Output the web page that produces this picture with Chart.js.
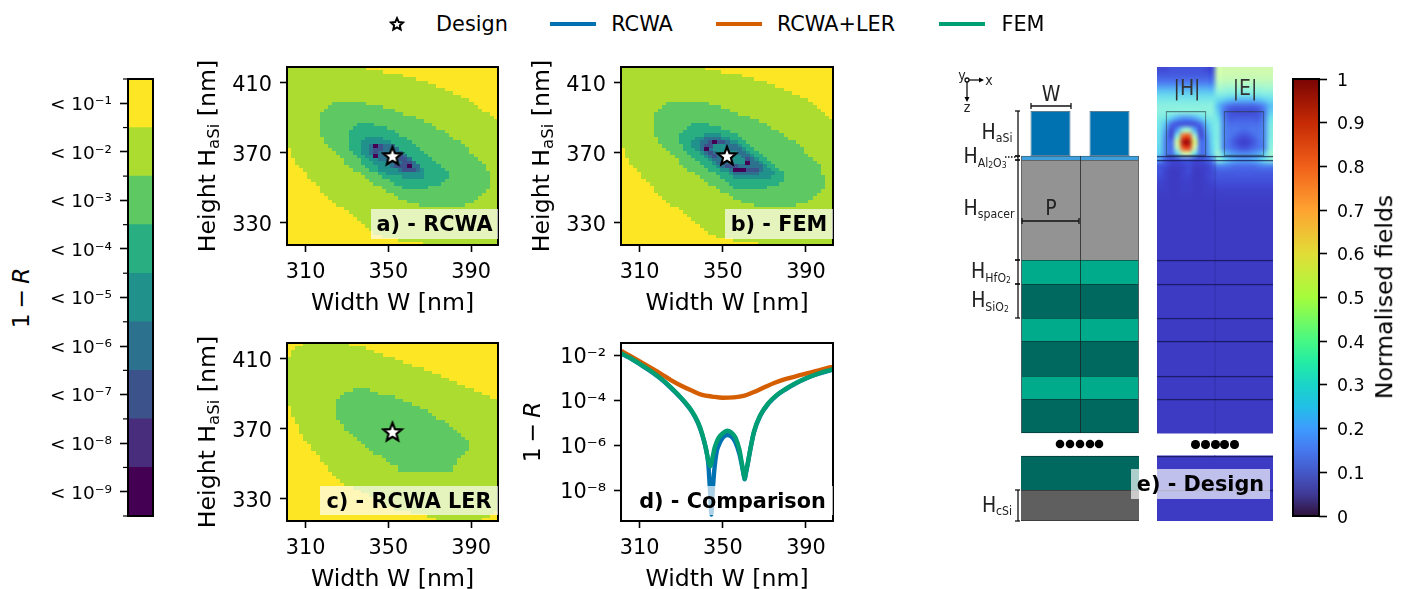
<!DOCTYPE html>
<html>
<head>
<meta charset="utf-8">
<script src="https://cdn.jsdelivr.net/npm/chart.js@4"></script>
<style>
html,body{margin:0;padding:0;background:#fff;overflow:hidden;width:1402px;height:589px;font-family:"DejaVu Sans";color:#000}
canvas{position:absolute}
.t{position:absolute;white-space:nowrap;transform:translate(-50%,-50%);line-height:1}
.r{transform:translate(-50%,-50%) rotate(-90deg);font-size:23.6px}
.s{font-stretch:condensed;font-size:21px;color:#222}
.s sub{font-size:.58em;vertical-align:-.3em;line-height:0}
.s sub sub{font-size:.7em;vertical-align:-.2em}
.r sub{font-size:.7em;vertical-align:-.25em;line-height:0}
.box{position:absolute;background:rgba(255,255,255,.68);font-weight:bold;font-size:20.8px;display:flex;align-items:center;justify-content:center;white-space:nowrap}
i{font-style:italic}
</style>
</head>
<body>
<script>
// scale ticks, all panels
const widthTicks = [310, 350, 390];
const heightTicks = [330, 370, 410];
const designPoint = [{ x: 352, y: 368 }];

// 1-R bands
const levelColors = ['#440154', '#472d7b', '#3b528b', '#2c728e', '#21918c', '#28ae80', '#5ec962', '#addc30', '#fde725'];
const levelLabels = ['< 10⁻⁹', '< 10⁻⁸', '< 10⁻⁷', '< 10⁻⁶', '< 10⁻⁵', '< 10⁻⁴', '< 10⁻³', '< 10⁻²', '< 10⁻¹'];

// heatmap regions: [first row, first col .. last col per row], grid is 51x51 (2 nm), row 0 on top
const aYellowTop = [[19,50],[23,50],[28,50],[31,50],[34,50],[36,50],[38,50],[40,50],[42,50],[44,50],[45,50],[46,50],[47,50],[49,50],[50,50]];
const aYellowLow = [[0,0],[0,0],[0,0],[0,1],[0,1],[0,2],[0,3],[0,4],[0,4],[0,5],[0,6],[0,7],[0,7],[0,8],[0,9],[0,10],[0,11],[0,13],[0,14],[0,15],[0,16],[0,17],[0,18],[0,19],[0,20],[0,22],[0,26],[0,32]];
const aL6 = [[11,18],[10,22],[9,25],[8,27],[8,30],[8,32],[8,34],[8,35],[8,37],[8,38],[9,39],[9,41],[10,42],[11,43],[12,43],[13,44],[14,45],[14,46],[15,47],[16,47],[18,48],[19,48],[20,48],[21,48],[23,48],[24,47],[26,46],[27,45],[29,44],[32,42]];
const aL5 = [[17,20],[16,23],[15,25],[15,26],[15,28],[15,29],[15,30],[15,31],[16,32],[17,33],[18,34],[18,35],[19,36],[20,37],[22,38],[23,38],[25,37],[26,36],[28,33]];
const aL4 = [[19,22],[18,24],[18,25],[18,26],[18,27],[19,28],[20,29],[21,30],[22,31],[22,32],[24,32],[28,32]];
const aL3 = [[20,25],[20,26],[20,27],[21,28],[22,29],[24,30],[25,31],[27,31]];
const aL2 = [[21,22],[21,22],[21,21],[26,27],[27,28],[28,29],[26,28],[28,30]];
const aL0 = [[21,21],[],[],[21,21],[],[],[29,29]];

const bYellowTop = [[20,50],[24,50],[29,50],[32,50],[35,50],[37,50],[39,50],[41,50],[43,50],[45,50],[46,50],[47,50],[48,50],[49,50],[50,50]];
const bYellowLow = [[0,0],[0,0],[0,0],[0,1],[0,1],[0,2],[0,3],[0,4],[0,4],[0,5],[0,6],[0,7],[0,7],[0,8],[0,9],[0,10],[0,11],[0,13],[0,14],[0,15],[0,16],[0,17],[0,18],[0,19],[0,20],[0,22],[0,26],[0,32]];
const bL6 = [[11,20],[10,23],[9,25],[8,27],[8,30],[8,32],[8,34],[8,35],[8,37],[8,38],[9,39],[9,41],[10,42],[11,43],[12,43],[13,44],[14,45],[14,46],[15,47],[16,47],[18,47],[19,48],[20,48],[21,48],[23,48],[24,47],[26,46],[27,45],[29,44],[32,41]];
const bL5 = [[17,20],[16,23],[15,25],[14,27],[14,28],[14,29],[15,30],[15,31],[16,32],[17,33],[18,34],[19,35],[20,36],[21,37],[23,38],[24,38],[25,38],[26,37],[27,34]];
const bL4 = [[20,23],[18,25],[17,27],[17,28],[18,29],[19,30],[20,31],[21,32],[22,33],[23,34],[24,35],[26,36],[27,35]];
const bL3 = [[20,23],[19,25],[19,27],[19,28],[20,29],[21,30],[22,31],[23,32],[24,33],[26,33],[27,32]];
const bInner = [[22,24],[22,25],[23,27],[24,28],[25,29],[27,30]];
const bL2 = [[21,24],[20,21],[20,20],[21,21],[22,22],[30,30],[24,24],[25,27],[30,32]];
const bL0 = [[22,22],[],[20,20],[],[],[],[30,30],[],[27,29]];

const cYellowCorner = [[0,3],[0,1],[0,0],[0,0]];
const cYellowTop = [[15,50],[19,50],[21,50],[23,50],[26,50],[28,50],[30,50],[33,50],[35,50],[37,50],[39,50],[41,50],[43,50],[45,50],[47,50],[49,50]];
const cYellowLow = [[0,0],[0,0],[0,0],[0,1],[0,1],[0,2],[0,2],[0,2],[0,3],[0,3],[0,4],[0,5],[0,5],[0,6],[0,7],[0,7],[0,8],[0,9],[0,9],[0,10],[0,11],[0,12],[0,13],[0,15],[0,17],[0,19],[0,20],[0,21],[0,23],[0,25],[0,29],[0,33],[0,35]];
const cYellowEdge = [[50,50],[49,50],[47,50]];
const cL6 = [[16,19],[14,21],[13,25],[12,27],[12,29],[12,31],[12,33],[12,34],[12,35],[13,37],[14,38],[14,39],[15,40],[16,41],[17,42],[18,43],[19,43],[20,43],[21,42],[23,41],[24,40],[25,40],[27,39],[27,39]];

const panelA = [[8,0,aYellowTop],[8,23,aYellowLow],[6,10,aL6],[5,16,aL5],[4,20,aL4],[3,22,aL3],[2,22,aL2],[0,22,aL0]];
const panelB = [[8,0,bYellowTop],[8,23,bYellowLow],[6,10,bL6],[5,16,bL5],[4,19,bL4],[3,20,bL3],[4,22,bInner],[2,21,bL2],[0,21,bL0]];
const panelC = [[8,0,cYellowCorner],[8,0,cYellowTop],[8,18,cYellowLow],[8,48,cYellowEdge],[6,13,cL6]];

// d) comparison curves
const fineWidths = [301,305,310,315,320,325,330,335,338,340,342,343,344,344.5,345,346,347,348,350,352,354,356,358,359,360,360.5,361,362,363,365,368,372,376,380,385,390,395,400,403];
const rcwaValues = [1.3e-2,8.2e-3,4.2e-3,2.1e-3,9.6e-4,3.7e-4,1.25e-4,3.3e-5,1.0e-5,3.1e-6,6e-7,1.5e-7,5e-9,8e-10,6e-9,1.0e-7,5e-7,1.0e-6,2.2e-6,2.9e-6,2.5e-6,1.4e-6,4e-7,1.5e-7,5e-8,3e-8,5e-8,1.5e-7,5e-7,3.9e-6,2.1e-5,7.4e-5,1.7e-4,3.1e-4,5.8e-4,9.6e-4,1.45e-3,2.0e-3,2.4e-3];
const femValues = [1.3e-2,8.4e-3,4.4e-3,2.2e-3,1.0e-3,3.9e-4,1.3e-4,3.5e-5,1.1e-5,3.4e-6,6.3e-7,2.0e-7,1.15e-7,1.6e-7,2.7e-7,7.6e-7,1.4e-6,2.2e-6,3.5e-6,4.5e-6,3.8e-6,2.3e-6,6.3e-7,1.9e-7,5.8e-8,3.2e-8,5.8e-8,1.6e-7,5.4e-7,4.2e-6,2.2e-5,7.8e-5,1.8e-4,3.2e-4,6.0e-4,1.0e-3,1.5e-3,2.1e-3,2.5e-3];
const lerWidths = [301,305,310,315,320,325,330,335,340,345,350,355,360,365,370,375,380,385,390,395,400,403];
const lerValues = [1.65e-2,1.04e-2,5.6e-3,3.0e-3,1.6e-3,8.2e-4,4.6e-4,2.8e-4,1.8e-4,1.5e-4,1.33e-4,1.38e-4,1.6e-4,2.4e-4,3.9e-4,6.2e-4,9.0e-4,1.2e-3,1.6e-3,2.1e-3,2.8e-3,3.2e-3];
const logTicks = [1e-2, 1e-4, 1e-6, 1e-8];
const logLabels = ['10⁻²', '10⁻⁴', '10⁻⁶', '10⁻⁸'];

// e) stack, depth measured from pillar top
const stackNames = ['Al2O3','spacer','HfO2','SiO2','HfO2','SiO2','HfO2','SiO2','SiO2','cSi'];
const stackTop = [45,49,149,173,207,230,265,288,345,379];
const stackBottom = [49,149,173,207,230,265,288,322,379,410];
const stackColors = ['#3f9fdc','#939393','#00ab8c','#00695f','#00ab8c','#00695f','#00ab8c','#00695f','#00695f','#5f5f5f'];
const stackEdges = ['#3a6a88','#555555','#0a4a42','#063c38','#0a4a42','#063c38','#0a4a42','#063c38','#063c38','#333333'];
const pillarTop = 0;
const pillarBottom = 45;
const brackets = [[0,45],[45,49],[49,149],[149,173],[173,207],[379,410]];
const bodyTop = [100, 345];
const bodyBottom = [322, 410];

// |H| and |E| top part, rows every 6 depth units from -41, 10 columns each
const fieldRows = [
 [.08,.08,.09,.09,.09,.09,.09,.09,.08,.08, .42,.42,.42,.42,.42,.42,.42,.42,.42,.42],
 [.10,.10,.10,.10,.10,.10,.10,.10,.10,.10, .41,.41,.41,.41,.41,.41,.41,.41,.41,.41],
 [.13,.13,.13,.13,.13,.13,.13,.13,.13,.13, .38,.38,.38,.38,.38,.38,.38,.38,.38,.38],
 [.18,.18,.18,.18,.18,.18,.18,.18,.18,.18, .34,.34,.33,.33,.33,.33,.33,.33,.34,.34],
 [.23,.23,.23,.23,.23,.23,.23,.23,.23,.23, .29,.29,.28,.28,.27,.27,.28,.28,.29,.29],
 [.27,.27,.27,.27,.27,.27,.27,.27,.27,.27, .24,.22,.20,.19,.19,.19,.19,.20,.22,.24],
 [.30,.30,.30,.30,.30,.30,.30,.30,.30,.30, .20,.15,.12,.11,.11,.11,.11,.12,.15,.20],
 [.30,.30,.30,.30,.30,.30,.30,.30,.30,.30, .22,.13,.09,.08,.08,.08,.08,.09,.13,.22],
 [.28,.26,.22,.18,.16,.16,.18,.22,.26,.28, .25,.14,.10,.10,.10,.10,.10,.10,.14,.25],
 [.26,.20,.12,.09,.09,.09,.09,.12,.20,.26, .27,.15,.12,.12,.12,.12,.12,.12,.15,.27],
 [.25,.17,.08,.16,.32,.34,.18,.08,.17,.25, .28,.15,.13,.13,.12,.12,.13,.13,.15,.28],
 [.24,.15,.08,.30,.78,.80,.35,.08,.15,.24, .28,.15,.13,.11,.09,.09,.11,.13,.15,.28],
 [.24,.14,.12,.45,.95,.97,.50,.12,.14,.24, .29,.15,.12,.09,.07,.07,.09,.12,.15,.29],
 [.23,.14,.12,.38,.80,.84,.42,.12,.14,.23, .30,.15,.13,.11,.09,.09,.11,.13,.15,.30],
 [.22,.14,.12,.22,.40,.42,.24,.12,.14,.22, .33,.22,.18,.16,.15,.15,.16,.18,.22,.33],
 [.16,.10,.08,.08,.10,.10,.08,.08,.10,.14, .30,.25,.20,.18,.17,.17,.18,.20,.25,.30],
 [.09,.08,.06,.06,.07,.08,.06,.06,.07,.09, .14,.14,.13,.12,.12,.12,.12,.13,.14,.14],
 [.09,.07,.05,.05,.07,.08,.05,.05,.07,.08, .10,.10,.10,.10,.10,.10,.10,.10,.10,.10],
 [.08,.07,.05,.05,.07,.07,.05,.05,.07,.08, .09,.09,.09,.09,.09,.09,.09,.09,.09,.09],
 [.07,.06,.05,.05,.06,.06,.05,.05,.06,.07, .08,.08,.08,.08,.08,.08,.08,.08,.08,.08],
 [.06,.06,.05,.05,.06,.06,.05,.05,.06,.06, .07,.07,.07,.07,.07,.07,.07,.07,.07,.07],
 [.055,.055,.05,.05,.055,.055,.05,.05,.055,.055, .06,.06,.06,.06,.06,.06,.06,.06,.06,.06],
 [.05,.05,.05,.05,.05,.05,.05,.05,.05,.05, .055,.055,.055,.055,.055,.055,.055,.055,.055,.055],
 [.05,.05,.05,.05,.05,.05,.05,.05,.05,.05, .05,.05,.05,.05,.05,.05,.05,.05,.05,.05]
];
const fieldStops = [.05,.07,.09,.12,.16,.20,.25,.30,.35,.42,.50,.60,.70,.80,.90,1];
const fieldRgb = [[61,59,196],[62,66,205],[66,84,220],[74,110,235],[80,150,245],[90,190,245],[110,225,235],[140,240,225],[170,248,205],[208,250,175],[225,245,120],[250,220,70],[250,170,50],[235,90,40],[205,40,30],[140,10,10]];

// right colorbar
const fieldTicks = [0,.1,.2,.3,.4,.5,.6,.7,.8,.9,1];
const fieldTickLabels = ['0','0.1','0.2','0.3','0.4','0.5','0.6','0.7','0.8','0.9','1'];
const barStops = [0,.05,.1,.15,.2,.25,.3,.35,.4,.5,.6,.7,.8,.9,1];
const barColors = ['#30123b','#3f3a96','#4458c8','#4678ee','#3e9bfe','#22bfe6','#1ad4c8','#22eba5','#46f884','#a4fc3c','#e1dd37','#fea331','#f1601a','#c52a04','#7a0403'];

const FONT = 'DejaVu Sans';
const TICK_FONT = { family: FONT, size: 20.8 };
const TITLE_FONT = { family: FONT, size: 23.6 };
Chart.defaults.font.family = FONT;
Chart.defaults.color = '#000';
Chart.defaults.animation = false;

const frame = {
  id: 'frame',
  afterDraw(chart) {
    const a = chart.chartArea, c = chart.ctx;
    c.save();
    c.strokeStyle = '#000';
    c.lineWidth = 2;
    c.strokeRect(a.left, a.top, a.right - a.left, a.bottom - a.top);
    c.restore();
  }
};

function canvasFor(plot, m) {
  const el = document.createElement('canvas');
  el.width = plot.r - plot.l + m.l + m.r;
  el.height = plot.b - plot.t + m.t + m.b;
  el.style.left = (plot.l - m.l) + 'px';
  el.style.top = (plot.t - m.t) + 'px';
  document.body.appendChild(el);
  return el;
}

function baseOptions(m) {
  return {
    responsive: false,
    devicePixelRatio: 1,
    layout: { autoPadding: false, padding: { top: m.t, right: m.r, bottom: 0, left: 0 } },
    plugins: { legend: { display: false }, tooltip: { enabled: false } }
  };
}

const tickGrid = { display: true, drawOnChartArea: false, drawTicks: true, tickLength: 7, tickWidth: 1.6, tickColor: '#000' };

function xAxis(m, withTitle) {
  return {
    type: 'linear', min: 301, max: 403,
    border: { display: false }, grid: tickGrid,
    afterBuildTicks: s => { s.ticks = widthTicks.map(v => ({ value: v })); },
    ticks: { font: TICK_FONT, padding: 8, maxRotation: 0, autoSkip: false, callback: v => String(v) },
    title: { display: withTitle, text: 'Width W [nm]', font: TITLE_FONT, padding: 0 },
    afterFit: s => { s.height = m.b; s.paddingLeft = s.paddingRight = 0; }
  };
}

function yFit(m) {
  return s => { s.width = m.l; s.paddingTop = s.paddingBottom = 0; };
}

function cellImage(color) {
  const el = document.createElement('canvas');
  el.width = 5; el.height = 4;
  const c = el.getContext('2d');
  c.fillStyle = color;
  c.fillRect(0, 0, 5, 4);
  return el;
}

function starImage(outer, inner, stroke) {
  const el = document.createElement('canvas');
  el.width = 24; el.height = 24;
  const c = el.getContext('2d');
  c.beginPath();
  for (let i = 0; i < 10; i++) {
    const rad = i % 2 ? inner : outer, ang = -Math.PI / 2 + i * Math.PI / 5;
    c.lineTo(12 + rad * Math.cos(ang), 12.5 + rad * Math.sin(ang));
  }
  c.closePath();
  c.fillStyle = '#fff';
  c.fill();
  c.lineWidth = stroke;
  c.strokeStyle = '#000';
  c.stroke();
  return el;
}

function cellsFrom(layers) {
  const grid = [];
  for (let r = 0; r < 51; r++) grid.push(new Array(51).fill(7));
  layers.forEach(([level, first, spans]) => {
    spans.forEach((sp, i) => {
      if (sp.length) for (let k = sp[0]; k <= sp[1]; k++) grid[first + i][k] = level;
    });
  });
  const byLevel = levelColors.map(() => []);
  grid.forEach((row, r) => row.forEach((lv, k) => byLevel[lv].push({ x: 302 + 2 * k, y: 418 - 2 * r })));
  return byLevel;
}

function heatPanel(plot, layers, withTitle) {
  const m = { l: 80, r: 4, t: 4, b: 73 };
  const byLevel = cellsFrom(layers);
  const datasets = byLevel.map((pts, lv) => ({
    label: levelLabels[lv], data: pts, order: lv + 1,
    pointStyle: cellImage(levelColors[lv]), pointRadius: 3, showLine: false
  }));
  datasets.push({ label: 'Design', data: designPoint, order: 0, pointStyle: starImage(9.6, 4.2, 2.2), pointRadius: 9, showLine: false });
  const opts = baseOptions(m);
  opts.scales = {
    x: xAxis(m, withTitle),
    y: {
      type: 'linear', min: 317, max: 419,
      border: { display: false }, grid: tickGrid,
      afterBuildTicks: s => { s.ticks = heightTicks.map(v => ({ value: v })); },
      ticks: { font: TICK_FONT, padding: 8, labelOffset: 3, autoSkip: false, callback: v => String(v) },
      afterFit: yFit(m)
    }
  };
  new Chart(canvasFor(plot, m), { type: 'scatter', data: { datasets }, options: opts, plugins: [frame] });
}

function comparisonPanel(plot) {
  const m = { l: 90, r: 4, t: 4, b: 73 };
  const line = (label, xs, ys, color, order) => ({
    label, data: xs.map((x, i) => ({ x, y: ys[i] })), showLine: true, borderColor: color,
    backgroundColor: color, borderWidth: 4.4, pointRadius: 0, cubicInterpolationMode: 'monotone', order, borderJoinStyle: 'round'
  });
  const opts = baseOptions(m);
  opts.scales = {
    x: xAxis(m, true),
    y: {
      type: 'logarithmic', min: Math.pow(10, -9.38), max: Math.pow(10, -1.43),
      border: { display: false }, grid: tickGrid,
      afterBuildTicks: s => { s.ticks = logTicks.map(v => ({ value: v })); },
      ticks: { font: TICK_FONT, padding: 8, labelOffset: 2, autoSkip: false, callback: (v, i) => logLabels[i] },
      afterFit: yFit(m)
    }
  };
  new Chart(canvasFor(plot, m), {
    type: 'scatter',
    data: { datasets: [
      line('FEM', fineWidths, femValues, '#009E73', 0),
      line('RCWA+LER', lerWidths, lerValues, '#D55E00', 1),
      line('RCWA', fineWidths, rcwaValues, '#0072B2', 2)
    ] },
    options: opts, plugins: [frame]
  });
}

function levelBar(plot) {
  const m = { l: 90, r: 4, t: 12, b: 12 };
  const minorTicks = {
    id: 'minorTicks',
    afterDraw(chart) {
      const c = chart.ctx, y = chart.scales.y, left = chart.chartArea.left;
      c.save();
      c.strokeStyle = '#000';
      c.lineWidth = 1.2;
      levelColors.concat(['']).forEach((_, i) => {
        const py = y.getPixelForValue(i);
        c.beginPath(); c.moveTo(left - 5, py); c.lineTo(left, py); c.stroke();
      });
      c.restore();
    }
  };
  const opts = baseOptions(m);
  opts.layout.padding.bottom = m.b;
  opts.scales = {
    x: { display: false, stacked: false },
    y: {
      type: 'linear', min: 0, max: levelColors.length,
      border: { display: false }, grid: { ...tickGrid, tickLength: 8 },
      afterBuildTicks: s => { s.ticks = levelLabels.map((_, i) => ({ value: i + .5 })); },
      ticks: { font: { family: FONT, size: 18.5 }, padding: 8, labelOffset: 2, autoSkip: false, callback: (v, i) => levelLabels[i] },
      afterFit: yFit(m)
    }
  };
  new Chart(canvasFor(plot, m), {
    type: 'bar',
    data: { labels: ['1-R'], datasets: levelColors.map((col, i) => ({
      label: levelLabels[i], data: [[i, i + 1]], backgroundColor: col, grouped: false, barPercentage: 1, categoryPercentage: 1
    })) },
    options: opts, plugins: [frame, minorTicks]
  });
}

function fieldBar(plot) {
  const m = { l: 4, r: 60, t: 12, b: 12 };
  const opts = baseOptions(m);
  opts.layout.padding.bottom = m.b;
  opts.layout.padding.left = m.l;
  opts.layout.padding.right = 0;
  opts.scales = {
    x: { display: false },
    y: {
      type: 'linear', position: 'right', min: 0, max: 1,
      border: { display: false }, grid: { ...tickGrid, tickLength: 8 },
      afterBuildTicks: s => { s.ticks = fieldTicks.map(v => ({ value: v })); },
      ticks: { font: { family: FONT, size: 17.4 }, padding: 10, labelOffset: 2, autoSkip: false, callback: (v, i) => fieldTickLabels[i] },
      afterFit: yFit({ l: m.r })
    }
  };
  new Chart(canvasFor(plot, m), {
    type: 'bar',
    data: { labels: ['field'], datasets: [{
      label: 'Normalised fields', data: [[0, 1]], grouped: false, barPercentage: 1, categoryPercentage: 1,
      backgroundColor: ctx => {
        const a = ctx.chart.chartArea;
        if (!a) return barColors[0];
        const g = ctx.chart.ctx.createLinearGradient(0, a.bottom, 0, a.top);
        barStops.forEach((s, i) => g.addColorStop(s, barColors[i]));
        return g;
      }
    }] },
    options: opts, plugins: [frame]
  });
}

function pair(a, b) { return [[a, b], [a, b]]; }

function stackPanel(plot) {
  const m = { l: 66, r: 4, t: 0, b: 4 };
  const marks = {
    id: 'marks',
    afterDraw(chart) {
      const c = chart.ctx, y = chart.scales.y, x0 = chart.chartArea.left, x1 = chart.chartArea.right;
      const line = (xa, ya, xb, yb) => { c.beginPath(); c.moveTo(xa, ya); c.lineTo(xb, yb); c.stroke(); };
      c.save();
      // cell walls
      const wallTop = y.getPixelForValue(45), wallEnd = y.getPixelForValue(322);
      c.lineWidth = 1;
      c.strokeStyle = 'rgba(90,90,90,.8)';
      line(x0 + .5, wallTop, x0 + .5, wallEnd);
      line(x1 - .5, wallTop, x1 - .5, wallEnd);
      c.strokeStyle = 'rgba(25,25,25,.7)';
      const mid = (x0 + x1) / 2;
      line(mid + .5, wallTop, mid + .5, wallEnd);
      c.strokeStyle = '#111';
      c.fillStyle = '#000';
      c.lineWidth = 1.3;
      // height brackets
      brackets.forEach(([a, b]) => {
        const p = y.getPixelForValue(a), q = y.getPixelForValue(b), bx = x0 - 3;
        line(bx, p, bx, q);
        line(bx - 3, p, bx + 2, p);
        line(bx - 3, q, bx + 2, q);
      });
      // W and P arrows
      const w = y.getPixelForValue(pillarTop) - 5, pz = y.getPixelForValue(110);
      line(x0 + 10, w, x0 + 50, w); line(x0 + 10, w - 3, x0 + 10, w + 3); line(x0 + 50, w - 3, x0 + 50, w + 3);
      line(x0 + 1, pz, x0 + 58, pz); line(x0 + 1, pz - 3, x0 + 1, pz + 3); line(x0 + 58, pz - 3, x0 + 58, pz + 3);
      // dotted lead to Al2O3
      c.setLineDash([1.5, 1.5]);
      line(x0 - 16, y.getPixelForValue(46), x0 - 3, y.getPixelForValue(46));
      c.setLineDash([]);
      // axes icon
      const ox = x0 - 54, oy = y.getPixelForValue(-31);
      line(ox, oy, ox + 13, oy); line(ox, oy, ox, oy + 18);
      c.beginPath(); c.moveTo(ox + 17, oy); c.lineTo(ox + 12, oy - 2.5); c.lineTo(ox + 12, oy + 2.5); c.fill();
      c.beginPath(); c.moveTo(ox, oy + 22); c.lineTo(ox - 2.5, oy + 17); c.lineTo(ox + 2.5, oy + 17); c.fill();
      c.fillStyle = '#fff';
      c.beginPath(); c.arc(ox, oy, 2, 0, 7); c.fill(); c.stroke();
      // break dots
      c.fillStyle = '#000';
      [-20, -10, 0, 10, 19].forEach(d => { c.beginPath(); c.arc(x0 + 59 + d, y.getPixelForValue(333), 4.3, 0, 7); c.fill(); });
      c.restore();
    }
  };
  const datasets = stackNames.map((name, i) => ({
    label: name, data: pair(stackTop[i], stackBottom[i]), backgroundColor: stackColors[i],
    grouped: false, barPercentage: 1, categoryPercentage: 1, borderSkipped: false,
    borderColor: stackEdges[i],
    borderWidth: { top: 1, bottom: i === 7 || i === 9 ? 1 : 0, left: 0, right: 0 }
  }));
  datasets.push({
    label: 'aSi', data: pair(pillarTop, pillarBottom), backgroundColor: '#0072B2', grouped: false,
    barPercentage: .68, categoryPercentage: 1, borderSkipped: false, borderColor: '#5c7f96', borderWidth: 1
  });
  const opts = baseOptions(m);
  opts.layout.padding.bottom = m.b;
  opts.layout.padding.left = m.l;
  opts.scales = {
    x: { display: false },
    y: { display: false, reverse: true, min: -44, max: 410 }
  };
  new Chart(canvasFor(plot, m), { type: 'bar', data: { labels: ['cell 1', 'cell 2'], datasets }, options: opts, plugins: [marks] });
}

function fieldColor(v) {
  let i = 0;
  while (i < fieldStops.length - 2 && v > fieldStops[i + 1]) i++;
  const f = Math.max(0, Math.min(1, (v - fieldStops[i]) / (fieldStops[i + 1] - fieldStops[i])));
  return fieldRgb[i].map((c, k) => Math.round(c + (fieldRgb[i + 1][k] - c) * f));
}

function fieldPanel(plot) {
  const m = { l: 2, r: 2, t: 0, b: 4 };
  const map = {
    id: 'map',
    beforeDatasetsDraw(chart) {
      const src = document.createElement('canvas');
      src.width = fieldRows[0].length; src.height = fieldRows.length;
      const sc = src.getContext('2d'), img = sc.createImageData(src.width, src.height);
      fieldRows.forEach((row, r) => row.forEach((v, k) => {
        const rgb = fieldColor(v), o = 4 * (r * src.width + k);
        img.data[o] = rgb[0]; img.data[o + 1] = rgb[1]; img.data[o + 2] = rgb[2]; img.data[o + 3] = 255;
      }));
      sc.putImageData(img, 0, 0);
      const a = chart.chartArea, y = chart.scales.y, c = chart.ctx;
      const t = y.getPixelForValue(-44), b = y.getPixelForValue(100);
      c.save();
      c.imageSmoothingEnabled = true;
      c.imageSmoothingQuality = 'high';
      c.drawImage(src, a.left, t, a.right - a.left, b - t);
      c.restore();
    }
  };
  const datasets = bodyTop.map((d, i) => ({
    label: 'body', data: pair(d, bodyBottom[i]), backgroundColor: '#3d3bc4', grouped: false,
    barPercentage: 1, categoryPercentage: 1, order: 5, inflateAmount: .6
  }));
  stackNames.forEach((name, i) => datasets.push({
    label: name, data: pair(stackTop[i], stackBottom[i]), backgroundColor: 'rgba(0,0,0,0)', grouped: false,
    barPercentage: 1, categoryPercentage: 1, borderSkipped: false, order: 1,
    borderColor: 'rgba(15,15,70,.7)', borderWidth: { top: 1, bottom: 0, left: 0, right: 0 }
  }));
  datasets.push({
    label: 'aSi', data: pair(pillarTop, pillarBottom), backgroundColor: 'rgba(0,0,0,0)', grouped: false,
    barPercentage: .7, categoryPercentage: 1, borderSkipped: false, order: 0,
    borderColor: 'rgba(40,60,70,.6)', borderWidth: 1.2
  });
  const centre = {
    id: 'centre',
    afterDatasetsDraw(chart) {
      const c = chart.ctx, a = chart.chartArea, y = chart.scales.y, mid = (a.left + a.right) / 2;
      c.save();
      c.strokeStyle = 'rgba(20,20,90,.22)';
      c.lineWidth = 1;
      c.beginPath();
      c.moveTo(mid, y.getPixelForValue(45));
      c.lineTo(mid, y.getPixelForValue(322));
      c.stroke();
      c.restore();
    }
  };
  const opts = baseOptions(m);
  opts.layout.padding.bottom = m.b;
  opts.layout.padding.left = m.l;
  opts.scales = {
    x: { display: false },
    y: { display: false, reverse: true, min: -44, max: 410 }
  };
  new Chart(canvasFor(plot, m), { type: 'bar', data: { labels: ['|H|', '|E|'], datasets }, options: opts, plugins: [map, centre] });
}

function label(html, cx, cy, cls, extra) {
  const d = document.createElement('div');
  d.className = 't ' + (cls || '');
  d.innerHTML = html;
  d.style.left = cx + 'px';
  d.style.top = cy + 'px';
  if (extra) d.style.cssText += extra;
  document.body.appendChild(d);
}

function tagBox(text, l, t, r, b) {
  const d = document.createElement('div');
  d.className = 'box';
  d.textContent = text;
  d.style.cssText += `left:${l}px;top:${t}px;width:${r - l}px;height:${b - t}px`;
  document.body.appendChild(d);
}

// panels
heatPanel({ l: 287, r: 498, t: 67, b: 245 }, panelA, true);
heatPanel({ l: 621, r: 833, t: 67, b: 245 }, panelB, true);
heatPanel({ l: 287, r: 498, t: 343, b: 521 }, panelC, true);
comparisonPanel({ l: 621, r: 833, t: 343, b: 521 });
levelBar({ l: 128, r: 153, t: 79, b: 516 });
fieldBar({ l: 1293, r: 1319, t: 79, b: 516 });
stackPanel({ l: 1021, r: 1139, t: 67, b: 521 });
fieldPanel({ l: 1157, r: 1273, t: 67, b: 521 });

// axis texts
label('Height H<sub>aSi</sub> [nm]', 208, 156, 'r');
label('Height H<sub>aSi</sub> [nm]', 542, 156, 'r');
label('Height H<sub>aSi</sub> [nm]', 208, 432, 'r');
label('1\u2009−\u2009<i>R</i>', 533, 432, 'r');
label('1\u2009−\u2009<i>R</i>', 22, 298, 'r');
label('Normalised fields', 1385, 297, 'r');

// stack texts
label('W', 1051, 94, 's');
label('H<sub>aSi</sub>', 997, 132, 's');
label('H<sub>Al<sub>2</sub>O<sub>3</sub></sub>', 985, 156, 's');
label('H<sub>spacer</sub>', 989, 208, 's');
label('P', 1051, 208, 's');
label('H<sub>HfO<sub>2</sub></sub>', 991, 271, 's');
label('H<sub>SiO<sub>2</sub></sub>', 990, 300, 's');
label('H<sub>cSi</sub>', 997, 505, 's');
label('y', 962, 75, 's', 'font-size:14px');
label('x', 989, 80, 's', 'font-size:14px');
label('z', 967, 107, 's', 'font-size:14px');
label('|H|', 1187, 88, 's', 'font-size:21px;color:#333');
label('|E|', 1245, 88, 's', 'font-size:21px;color:#333');

// break dots above the lower field block
const dotsField = [1195, 1205, 1215, 1224, 1234];
dotsField.forEach(x => {
  const d = document.createElement('div');
  d.style.cssText = `position:absolute;left:${x - 4}px;top:440px;width:8.5px;height:8.5px;border-radius:50%;background:#000`;
  document.body.appendChild(d);
});

// panel tags
tagBox('a) - RCWA', 371, 209, 498, 239);
tagBox('b) - FEM', 725, 209, 833, 239);
tagBox('c) - RCWA LER', 320, 486, 498, 515);
tagBox('d) - Comparison', 632, 486, 833, 515);
tagBox('e) - Design', 1131, 469, 1270, 499);

// shared legend
const legendTexts = ['Design', 'RCWA', 'RCWA+LER', 'FEM'];
const legendColors = [null, '#0072B2', '#D55E00', '#009E73'];
const legendTextX = [472, 642, 836, 1023];
const legendLineX = [null, 550, 716, 939];
legendTexts.forEach((t, i) => {
  label(t, legendTextX[i], 24, '', 'font-size:20.8px');
  if (legendColors[i]) {
    const d = document.createElement('div');
    d.style.cssText = `position:absolute;left:${legendLineX[i]}px;top:22px;width:46px;height:4px;background:${legendColors[i]}`;
    document.body.appendChild(d);
  }
});
const star = starImage(6.3, 3, 2);
star.style.left = '385px';
star.style.top = '12px';
document.body.appendChild(star);
</script>
</body>
</html>
